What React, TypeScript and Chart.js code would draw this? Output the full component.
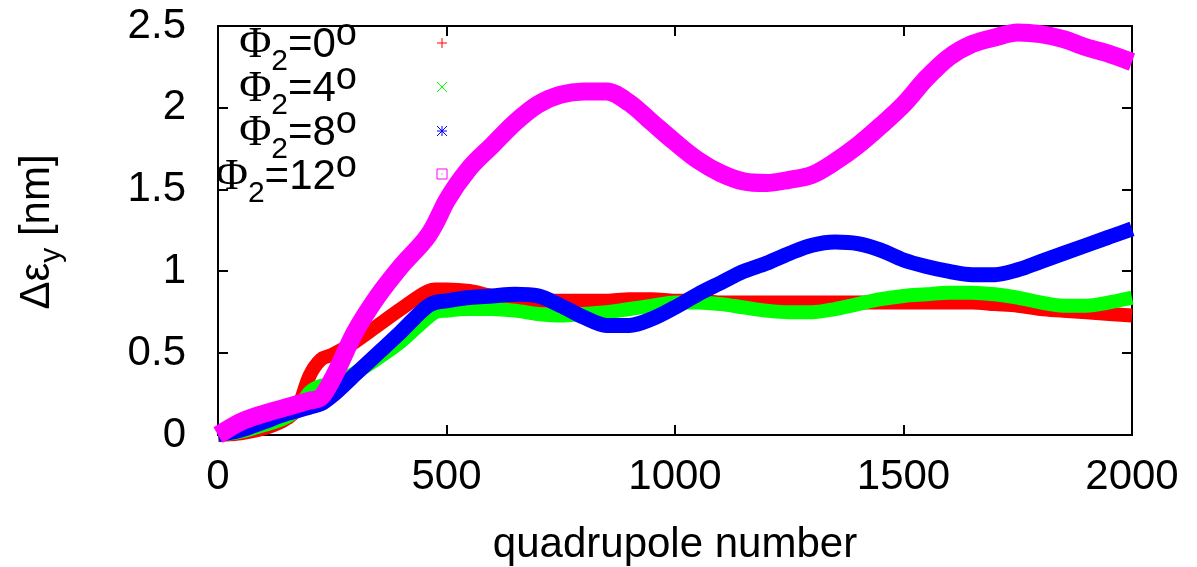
import React, { useEffect, useRef } from "react";
import { Chart, registerables } from "chart.js";

Chart.register(...registerables);

const quadrupole = [0, 50, 100, 150, 175, 200, 225, 250, 300, 350, 400, 460, 475, 500, 550, 600, 650, 700, 750, 800, 850, 900, 950, 1000, 1050, 1100, 1150, 1200, 1250, 1300, 1350, 1400, 1450, 1500, 1550, 1600, 1650, 1700, 1750, 1800, 1850, 1900, 1950, 2000];

const phi0 = [0, 0.01, 0.04, 0.10, 0.17, 0.36, 0.46, 0.49, 0.57, 0.67, 0.77, 0.88, 0.89, 0.89, 0.88, 0.85, 0.83, 0.82, 0.82, 0.82, 0.82, 0.83, 0.83, 0.82, 0.82, 0.81, 0.81, 0.81, 0.81, 0.81, 0.81, 0.81, 0.81, 0.81, 0.81, 0.81, 0.81, 0.80, 0.79, 0.77, 0.76, 0.75, 0.74, 0.73];
const phi4 = [0, 0.02, 0.06, 0.11, 0.16, 0.26, 0.30, 0.31, 0.38, 0.47, 0.57, 0.72, 0.75, 0.76, 0.77, 0.77, 0.76, 0.74, 0.73, 0.74, 0.75, 0.77, 0.79, 0.81, 0.81, 0.80, 0.78, 0.76, 0.75, 0.75, 0.77, 0.80, 0.83, 0.85, 0.86, 0.87, 0.87, 0.86, 0.84, 0.81, 0.79, 0.79, 0.81, 0.84];
const phi8 = [0, 0.03, 0.08, 0.13, 0.15, 0.17, 0.19, 0.24, 0.37, 0.50, 0.63, 0.79, 0.81, 0.82, 0.84, 0.85, 0.86, 0.85, 0.79, 0.72, 0.67, 0.67, 0.71, 0.78, 0.86, 0.93, 1.00, 1.05, 1.11, 1.16, 1.18, 1.17, 1.13, 1.07, 1.03, 1.00, 0.98, 0.98, 1.01, 1.06, 1.11, 1.16, 1.21, 1.26];
const phi12 = [0, 0.08, 0.13, 0.17, 0.19, 0.21, 0.23, 0.34, 0.63, 0.85, 1.03, 1.22, 1.29, 1.43, 1.63, 1.77, 1.91, 2.02, 2.08, 2.10, 2.10, 2.03, 1.91, 1.79, 1.68, 1.60, 1.55, 1.54, 1.56, 1.59, 1.67, 1.77, 1.89, 2.02, 2.18, 2.31, 2.39, 2.43, 2.46, 2.45, 2.42, 2.37, 2.33, 2.28];

const legendAngles = ["0", "4", "8", "12"];
const seriesColors = ["#ff0000", "#00ff00", "#0000ff", "#ff00ff"];
const seriesWidths = [14, 14, 15, 18];
const xTicks = [0, 500, 1000, 1500, 2000];
const yTicks = [0, 0.5, 1, 1.5, 2, 2.5];

const SANS = "'Liberation Sans', Arial, sans-serif";
const SERIF = "'Liberation Serif', 'Times New Roman', serif";

const framePlugin = {
  id: "frame",
  beforeDatasetsDraw(chart: any) {
    const { ctx, chartArea } = chart;
    const { left, right, top, bottom } = chartArea;
    const xs = chart.scales.x;
    const ys = chart.scales.y;
    ctx.save();
    ctx.strokeStyle = "#000";
    ctx.lineWidth = 2;
    ctx.strokeRect(left, top, right - left, bottom - top);
    ctx.beginPath();
    const tl = 10;
    xTicks.forEach((v) => {
      const px = Math.round(xs.getPixelForValue(v));
      ctx.moveTo(px, bottom);
      ctx.lineTo(px, bottom - tl);
      ctx.moveTo(px, top);
      ctx.lineTo(px, top + tl);
    });
    yTicks.forEach((v) => {
      const py = Math.round(ys.getPixelForValue(v));
      ctx.moveTo(left, py);
      ctx.lineTo(left + tl, py);
      ctx.moveTo(right, py);
      ctx.lineTo(right - tl, py);
    });
    ctx.stroke();
    ctx.restore();
  },
  afterDraw(chart: any) {
    const { ctx } = chart;
    ctx.save();
    // y-axis title
    ctx.translate(49, 232);
    ctx.rotate(-Math.PI / 2);
    ctx.fillStyle = "#000";
    ctx.textBaseline = "alphabetic";
    const mainF = `42px ${SANS}`;
    const subF = `30px ${SANS}`;
    ctx.font = mainF;
    const w1 = ctx.measureText("\u0394\u03b5").width;
    const w3 = ctx.measureText(" [nm]").width;
    ctx.font = subF;
    const w2 = ctx.measureText("y").width;
    let x0 = -(w1 + w2 + w3) / 2;
    ctx.font = mainF;
    ctx.fillText("\u0394\u03b5", x0, 0);
    x0 += w1;
    ctx.font = subF;
    ctx.fillText("y", x0, 11);
    x0 += w2;
    ctx.font = mainF;
    ctx.fillText(" [nm]", x0, 0);
    ctx.restore();

    // legend
    ctx.save();
    ctx.fillStyle = "#000";
    ctx.textBaseline = "alphabetic";
    const rightX = 357;
    const baselines = [57, 101, 145, 189];
    const markerY = [43, 87, 131, 174];
    const markerX = 442;
    legendAngles.forEach((ang, i) => {
      const b = baselines[i];
      ctx.font = `38px ${SANS}`;
      const wO = ctx.measureText("o").width;
      ctx.font = `42px ${SANS}`;
      const wEq = ctx.measureText("=" + ang).width;
      ctx.font = `30px ${SANS}`;
      const w2 = ctx.measureText("2").width;
      ctx.font = `44px ${SERIF}`;
      const wPhi = ctx.measureText("\u03a6").width;
      let x = rightX - (wO + wEq + w2 + wPhi);
      ctx.font = `44px ${SERIF}`;
      ctx.fillText("\u03a6", x, b);
      x += wPhi;
      ctx.font = `30px ${SANS}`;
      ctx.fillText("2", x, b + 13);
      x += w2;
      ctx.font = `42px ${SANS}`;
      ctx.fillText("=" + ang, x, b);
      x += wEq;
      ctx.font = `38px ${SANS}`;
      ctx.fillText("o", x, b - 12);

      // markers
      const my = markerY[i];
      const s = 5;
      ctx.strokeStyle = seriesColors[i];
      ctx.lineWidth = 1;
      ctx.beginPath();
      if (i === 0) {
        ctx.moveTo(markerX - s, my); ctx.lineTo(markerX + s, my);
        ctx.moveTo(markerX, my - s); ctx.lineTo(markerX, my + s);
      } else if (i === 1) {
        ctx.moveTo(markerX - s, my - s); ctx.lineTo(markerX + s, my + s);
        ctx.moveTo(markerX - s, my + s); ctx.lineTo(markerX + s, my - s);
      } else if (i === 2) {
        ctx.moveTo(markerX - s, my); ctx.lineTo(markerX + s, my);
        ctx.moveTo(markerX, my - s); ctx.lineTo(markerX, my + s);
        ctx.moveTo(markerX - s, my - s); ctx.lineTo(markerX + s, my + s);
        ctx.moveTo(markerX - s, my + s); ctx.lineTo(markerX + s, my - s);
      } else {
        ctx.rect(markerX - s, my - s, 2 * s, 2 * s);
        ctx.moveTo(markerX - 0.5, my); ctx.lineTo(markerX + 0.5, my);
      }
      ctx.stroke();
    });
    ctx.restore();
  },
};

export default function App() {
  const canvasRef = useRef<HTMLCanvasElement | null>(null);

  useEffect(() => {
    document.body.style.margin = "0";
    const canvas = canvasRef.current;
    if (!canvas) return;
    const allSeries = [phi0, phi4, phi8, phi12];
    const chart = new Chart(canvas, {
      type: "line",
      data: {
        datasets: allSeries.map((vals, i) => ({
          label: `\u03a62=${legendAngles[i]}\u00b0`,
          data: quadrupole.map((q, j) => ({ x: q, y: vals[j] })),
          borderColor: seriesColors[i],
          backgroundColor: seriesColors[i],
          borderWidth: seriesWidths[i],
          pointRadius: 0,
          cubicInterpolationMode: "monotone" as const,
          borderJoinStyle: "round" as const,
          fill: false,
          clip: false as any,
          order: 4 - i,
        })),
      },
      options: {
        responsive: false,
        animation: false,
        layout: { padding: { top: 26, right: 65, left: 0, bottom: 0 } },
        plugins: {
          legend: { display: false },
          tooltip: { enabled: false },
          title: { display: false },
        },
        scales: {
          x: {
            type: "linear",
            min: 0,
            max: 2000,
            grid: { display: false },
            border: { display: false },
            ticks: {
              stepSize: 500,
              color: "#000",
              padding: 9,
              maxRotation: 0,
              font: { family: SANS, size: 42 },
              callback: (v: any) => String(v),
            },
            title: {
              display: true,
              text: "quadrupole number",
              color: "#000",
              font: { family: SANS, size: 42, lineHeight: 1 },
              padding: { top: 0, bottom: 1 },
            },
            afterFit: (scale: any) => {
              scale.height = 132;
              scale.paddingLeft = 0;
              scale.paddingRight = 0;
            },
          },
          y: {
            type: "linear",
            min: 0,
            max: 2.5,
            grid: { display: false },
            border: { display: false },
            ticks: {
              stepSize: 0.5,
              color: "#000",
              padding: 24,
              font: { family: SANS, size: 42 },
              callback: (v: any) => String(v),
            },
            afterFit: (scale: any) => {
              scale.width = 218;
              scale.paddingTop = 0;
              scale.paddingBottom = 0;
            },
          },
        },
      },
      plugins: [framePlugin],
    });
    return () => chart.destroy();
  }, []);

  return (
    <div style={{ position: "absolute", left: 0, top: 0, width: 1197, height: 567, background: "#fff" }}>
      <canvas ref={canvasRef} width={1197} height={567} style={{ display: "block" }} />
    </div>
  );
}
